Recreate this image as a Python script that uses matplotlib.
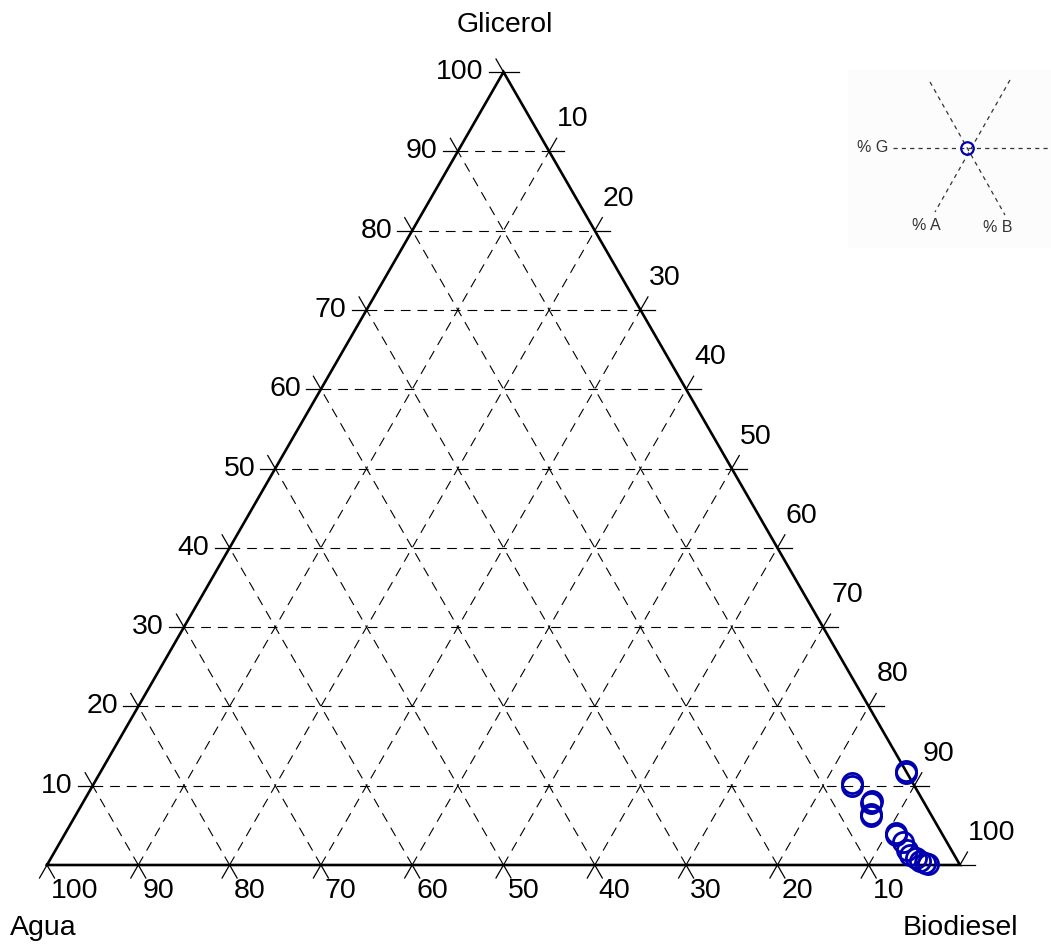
import numpy as np
import matplotlib
matplotlib.use("Agg")
import matplotlib.pyplot as plt
from matplotlib.patches import Rectangle

plt.rcParams['font.family'] = ['Liberation Sans', 'DejaVu Sans']
plt.rcParams['lines.scale_dashes'] = False

# ---- data (percent) ----
glicerol = [11.9, 11.6, 10.3, 10.0, 8.1, 7.8, 6.4, 6.2, 4.0, 3.8, 2.9, 1.9, 1.3, 0.9, 0.5, 0.3, 0.1]
biodiesel = [88.1, 88.3, 83.0, 83.2, 86.3, 86.4, 87.1, 87.2, 91.0, 91.1, 92.3, 93.2, 93.9, 94.7, 95.4, 96.0, 96.4]
agua = [100 - g - b for g, b in zip(glicerol, biodiesel)]

tick_vals = [10, 20, 30, 40, 50, 60, 70, 80, 90, 100]
axis_names = {'top': 'Glicerol', 'left': 'Agua', 'right': 'Biodiesel'}
key_labels = ['% G', '% A', '% B']

H = np.sqrt(3) / 2


def to_xy(g, b):
    g = np.asarray(g) / 100.0
    b = np.asarray(b) / 100.0
    return b + g / 2.0, g * H


W, Hpx = 1051, 948
fig = plt.figure(figsize=(W / 100, Hpx / 100), dpi=100)
ax = fig.add_axes([0, 0, 1, 1])
# pixel mapping: x=0 -> px 47, x=1 -> px 960 ; y=0 -> px 865, y=H -> px 72
sx = 913.0
sy = 793.0 / H
ax.set_xlim(-47 / sx, (W - 47) / sx)
ax.set_ylim(-(Hpx - 865) / sy, 865 / sy)
ax.axis('off')

grid_kw = dict(color='black', lw=0.8, linestyle=(0, (7, 5)), zorder=1)
for v in range(10, 100, 10):
    f = v / 100.0
    # G = const (horizontal)
    ax.plot([f / 2, 1 - f / 2], [f * H, f * H], **grid_kw)
    # B = const (parallel to left edge)
    ax.plot([f, f + (1 - f) / 2], [0, (1 - f) * H], **grid_kw)
    # A = const (parallel to right edge)
    ax.plot([1 - f, (1 - f) / 2], [0, (1 - f) * H], **grid_kw)

# triangle edges
ax.plot([0, 1, 0.5, 0], [0, 0, H, 0], color='black', lw=1.9, zorder=3,
        solid_joinstyle='miter')

# ticks
L = 15.0
def tick(x0, y0, dx, dy):
    ax.plot([x0, x0 + dx * L / sx], [y0, y0 + dy * L / sy], color='black', lw=0.9, zorder=2)

for v in tick_vals:
    f = v / 100.0
    # left edge (Glicerol)
    x0, y0 = f / 2, f * H
    tick(x0, y0, -1, 0)
    tick(x0, y0, -0.5, 0.866)
    ax.annotate(str(v), (x0, y0), xytext=(-20, 0), textcoords='offset pixels',
                ha='right', va='center', fontsize=20.5)
    # right edge (Biodiesel)
    x0, y0 = f + (1 - f) / 2, (1 - f) * H
    tick(x0, y0, 1, 0)
    tick(x0, y0, 0.5, 0.866)
    ax.annotate(str(v), (x0, y0), xytext=(8, 32), textcoords='offset pixels',
                ha='left', va='center', fontsize=20.5)
    # bottom edge (Agua)
    x0, y0 = 1 - f, 0
    tick(x0, y0, 0.5, -0.866)
    tick(x0, y0, -0.5, -0.866)
    ax.annotate(str(v), (x0, y0), xytext=(4, -26), textcoords='offset pixels',
                ha='left', va='center', fontsize=20.5)
# apex right horizontal tick
tick(0.5, H, 1, 0)

# corner names
ax.annotate(axis_names['top'], (0.5, H), xytext=(1, 47), textcoords='offset pixels',
            ha='center', va='center', fontsize=20.5)
ax.annotate(axis_names['left'], (0, 0), xytext=(-4, -63), textcoords='offset pixels',
            ha='center', va='center', fontsize=20.5)
ax.annotate(axis_names['right'], (1, 0), xytext=(0, -63), textcoords='offset pixels',
            ha='center', va='center', fontsize=20.5)

# data
px, py = to_xy(glicerol, biodiesel)
ax.plot(px, py, 'o', ms=14.5, mfc='none', mec='#0000b0', mew=2.0, zorder=5,
        clip_on=False)

# inset key
iax = fig.add_axes([848 / W, 1 - 248 / Hpx, (W - 848) / W, 178 / Hpx])
iax.set_xlim(848, W)
iax.set_ylim(248, 70)
iax.axis('off')
iax.add_patch(Rectangle((0, 0), 1, 1, transform=iax.transAxes,
                        facecolor='#fcfcfc', edgecolor='none', zorder=0))
cx, cy = 967, 148
ikw = dict(color='#333333', lw=0.9, linestyle=(0, (3, 3)), zorder=2)
iax.plot([893, W], [cy, cy], **ikw)
iax.plot([930, 1005], [82, 215], **ikw)
iax.plot([1010, 935], [80, 212], **ikw)
iax.plot([cx], [cy], 'o', ms=9, mfc='none', mec='#0000b0', mew=1.6, zorder=3)
iax.text(888, cy, key_labels[0], ha='right', va='center', fontsize=11.5, color='#333333')
iax.text(926, 225, key_labels[1], ha='center', va='center', fontsize=11.5, color='#333333')
iax.text(998, 227, key_labels[2], ha='center', va='center', fontsize=11.5, color='#333333')

fig.savefig('out.png', dpi=100)
